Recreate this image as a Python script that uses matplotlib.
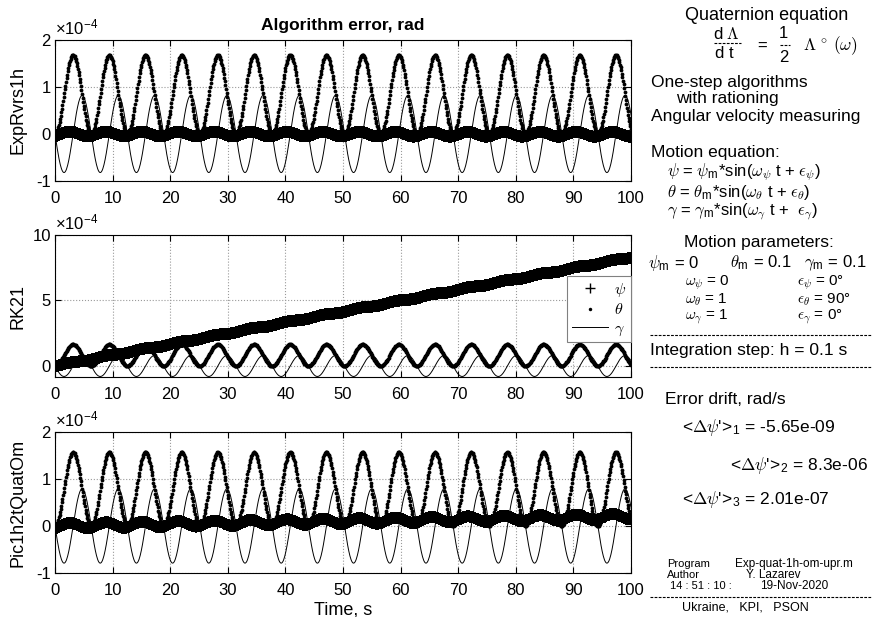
import numpy as np
import matplotlib
matplotlib.use("Agg")
import matplotlib.pyplot as plt
from matplotlib.lines import Line2D

plt.rcParams['font.family'] = ['Liberation Sans', 'DejaVu Sans']
plt.rcParams['mathtext.fontset'] = 'cm'
plt.rcParams['axes.unicode_minus'] = False

# integration grid
h = 0.1
t_end = 100.0
t = np.arange(0, t_end + h / 2, h)

algorithms = ['ExpRvrs1h', 'RK21', 'Pic1h2tQuatOm']
drift = [-5.65e-09, 8.3e-06, 2.01e-07]      # mean psi error rate, rad/s
psi_wobble = [0.05e-4, 0.05e-4, 0.06e-4]    # ripple on psi error, rad
theta_peak = [1.68e-4, 1.65e-4, 1.57e-4]    # max theta error, rad
gamma_amp = [0.82e-4, 0.80e-4, 0.79e-4]     # gamma error amplitude, rad
y_lims = [(-1, 2), (-0.84, 10), (-1, 2)]
y_ticks = [[-1, 0, 1, 2], [0, 5, 10], [-1, 0, 1, 2]]
x_ticks = [0, 10, 20, 30, 40, 50, 60, 70, 80, 90, 100]
scale = 1e-4

W, H = 872, 617
fig = plt.figure(figsize=(W / 100, H / 100), dpi=100)

# axes boxes in pixels: (top, bottom)
boxes = [(40, 181), (235, 377), (432, 573)]
x0, x1 = 55, 631

axs = []
for i, (top, bot) in enumerate(boxes):
    ax = fig.add_axes([x0 / W, 1 - bot / H, (x1 - x0) / W, (bot - top) / H])
    psi = drift[i] * t + psi_wobble[i] * np.sin(t - 1.0)
    theta = theta_peak[i] / 2 * (1 - np.cos(t))
    gamma = -gamma_amp[i] * np.sin(t)

    ax.plot(t, psi / scale, '+', color='k', ms=9, mew=1.4, label=r'$\psi$')
    ax.plot(t, theta / scale, '.', color='k', ms=5.5, mew=0, label=r'$\theta$')
    ax.plot(t, gamma / scale, '-', color='k', lw=0.7, label=r'$\gamma$')

    ax.set_xlim(0, t_end)
    ax.set_ylim(*y_lims[i])
    ax.set_xticks(x_ticks)
    ax.set_yticks(y_ticks[i])
    ax.grid(True, linestyle=':', color='#9a9a9a', linewidth=0.8)
    ax.tick_params(direction='in', top=True, right=True, length=4, labelsize=12)
    ax.tick_params(axis='x', pad=7)
    ax.tick_params(axis='y', pad=3)
    for s in ax.spines.values():
        s.set_linewidth(0.8)
    ax.set_ylabel(algorithms[i], fontsize=13)
    ax.yaxis.set_label_coords(-0.049, 0.5)
    ax.text(0.0, 1.02, r'$\mathregular{\times10^{-4}}$', transform=ax.transAxes,
            ha='left', va='bottom', fontsize=12)
    axs.append(ax)

axs[0].set_title('Algorithm error, rad', fontweight='bold', fontsize=12.5, pad=7)
axs[2].set_xlabel('Time, s', fontsize=13, labelpad=3)

handles, labels = axs[1].get_legend_handles_labels()
handles[0] = Line2D([], [], marker='+', color='k', ls='none', ms=7, mew=1.0)
handles[1] = Line2D([], [], marker='.', color='k', ls='none', ms=5, mew=0)
leg = axs[1].legend(handles, labels, loc='upper right', bbox_to_anchor=(1.0, 0.71),
                    borderaxespad=0, fancybox=False, framealpha=1,
                    edgecolor='#808080', fontsize=11.5, handlelength=2.3,
                    handletextpad=0.35, labelspacing=0.2, borderpad=0.3)
leg.get_frame().set_linewidth(0.8)


def put(x, y, s, size=12, **kw):
    fig.text(x / W, 1 - y / H, s, va='center', ha='left', fontsize=size, **kw)


def dash_line(y, xa=650, xb=872):
    fig.add_artist(Line2D([xa / W, xb / W], [1 - y / H, 1 - y / H], color='k',
                          lw=0.8, linestyle=(0, (2.5, 1.2))))


# quaternion equation
put(685, 15, 'Quaternion equation', 13)
put(713, 34, r'd $\Lambda$', 12)
dash_line(43, 714, 741)
put(715, 53, 'd t', 12)
put(757, 46, '=', 12)
put(779, 34, '1', 12)
dash_line(45, 780, 790)
put(779, 57, '2', 12)
put(803, 46, r'$\Lambda\ ^{\circ}\ (\omega)$', 12.5)

put(651, 82, 'One-step algorithms', 12.5)
put(676, 99, 'with rationing', 12.5)
put(651, 117, 'Angular velocity measuring', 12.5)

# motion equations
put(651, 152, 'Motion equation:', 12.5)
put(667, 172, r'$\psi$ = $\psi_{\mathregular{m}}$*sin($\omega_\psi$ t + $\epsilon_\psi$)', 12)
put(667, 192, r'$\theta$ = $\theta_{\mathregular{m}}$*sin($\omega_\theta$ t + $\epsilon_\theta$)', 12)
put(667, 212, r'$\gamma$ = $\gamma_{\mathregular{m}}$*sin($\omega_\gamma$ t +  $\epsilon_\gamma$)', 12)

# motion parameters
put(684, 243, 'Motion parameters:', 12.5)
put(648, 263, r'$\psi_{\mathregular{m}}$ = 0', 12)
put(730, 263, r'$\theta_{\mathregular{m}}$ = 0.1', 12)
put(804, 263, r'$\gamma_{\mathregular{m}}$ = 0.1', 12)
put(685, 283, r'$\omega_\psi$ = 0', 11)
put(685, 300, r'$\omega_\theta$ = 1', 11)
put(685, 317, r'$\omega_\gamma$ = 1', 11)
put(797, 283, r'$\epsilon_\psi$ = 0°', 11)
put(797, 300, r'$\epsilon_\theta$ = 90°', 11)
put(797, 317, r'$\epsilon_\gamma$ = 0°', 11)

dash_line(335)
put(650, 351, f'Integration step: h = {h:g} s', 12.5)
dash_line(367)

# error drift
put(665, 400, 'Error drift, rad/s', 12.5)
put(682, 428, rf"<$\Delta\psi$'>$_{{\mathregular{{1}}}}$ = {drift[0]:.3g}", 12.5)
put(730, 466, rf"<$\Delta\psi$'>$_{{\mathregular{{2}}}}$ = {drift[1]:.3g}", 12.5)
put(682, 500, rf"<$\Delta\psi$'>$_{{\mathregular{{3}}}}$ = {drift[2]:.3g}", 12.5)

# footer
put(667, 564, 'Program', 8)
put(735, 564, 'Exp-quat-1h-om-upr.m', 8.5)
put(667, 575, 'Author', 8)
put(746, 575, 'Y. Lazarev', 8.5)
put(670, 586, '14 : 51 : 10 :', 8)
put(760, 586, '19-Nov-2020', 8.5)
dash_line(597)
put(682, 607, 'Ukraine,   KPI,   PSON', 9)

fig.savefig('out.png', dpi=100)
